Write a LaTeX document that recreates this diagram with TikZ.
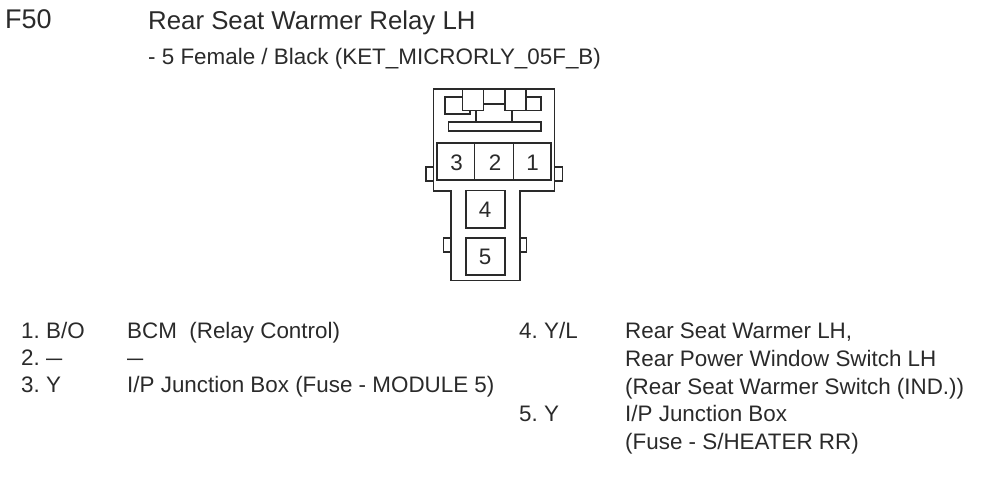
\documentclass[tikz,border=0pt]{standalone}
\usepackage{fontspec}
\setmainfont{Liberation Sans}
\frenchspacing
\definecolor{ink}{HTML}{2A2A2A}
\newcommand{\longdash}{\scalebox{1.3}[1]{--}}
\tikzset{
  pinbox/.style={draw=ink,line width=1.6pt,fill=none},
  part/.style={draw=ink,line width=1.6pt},
  txt/.style={anchor=base west,inner sep=0pt,text=ink,font=\fontsize{22.4}{26}\selectfont},
  head/.style={anchor=base west,inner sep=0pt,text=ink,font=\fontsize{25.8}{30}\selectfont},
  num/.style={anchor=center,inner sep=0pt,text=ink,text depth=0pt,text height=16pt,font=\fontsize{22.4}{27}\selectfont}
}
\begin{document}
\begin{tikzpicture}[x=1pt,y=-1pt]
\useasboundingbox (0,0) rectangle (983,487);
% headings
\node[head,font=\fontsize{27}{30}\selectfont] (f) at (5,29) {F50};
\node[head] (t) at (148,30) {Rear Seat Warmer Relay LH};
\node[txt] (s) at (148,65) {- 5 Female / Black (KET\_MICRORLY\_05F\_B)};
% housing
\draw[part] (433.3,89.3) -- (554.3,89.3) -- (554.3,191) -- (520,191) -- (520,280.3) -- (450.7,280.3) -- (450.7,191) -- (433.3,191) -- cycle;
% tabs
\draw[part] (433.3,166.7) -- (425.7,166.7) -- (425.7,180.7) -- (433.3,180.7);
\draw[part] (554.3,166.7) -- (562.3,166.7) -- (562.3,180.7) -- (554.3,180.7);
\draw[part] (450.7,237.7) -- (443.3,237.7) -- (443.3,251.7) -- (450.7,251.7);
\draw[part] (520,237.7) -- (526.3,237.7) -- (526.3,251.7) -- (520,251.7);
% latch detail
\draw[part] (462.3,96.7) -- (444.7,96.7) -- (444.7,114) -- (470,114) -- (470,110.3);
\draw[part] (462.3,89.3) rectangle (483.3,110.3);
\draw[part] (504.7,89.3) rectangle (525.7,110.3);
\draw[part] (525.7,96.7) -- (541,96.7) -- (541,110.3) -- (525.7,110.3);
\draw[part] (483.3,104) -- (504.7,104);
\draw[part] (476,110.3) -- (476,121.7);
\draw[part] (512,110.3) -- (512,121.7);
\draw[part] (448.3,121.7) rectangle (540.7,130.7);
% terminals
\draw[part] (437,142.7) rectangle (551,180);
\draw[part] (474.3,142.7) -- (474.3,180);
\draw[part] (513.3,142.7) -- (513.3,180);
\node[num] (p3) at (456.7,162) {3};
\node[num] (p2) at (495,162) {2};
\node[num] (p1) at (532.7,162) {1};
\node[pinbox,num,text height=17pt,minimum width=39pt,minimum height=37.4pt] (p4) at (485.2,209) {4};
\node[pinbox,num,text height=17pt,minimum width=39pt,minimum height=37.4pt] (p5) at (485.2,256.4) {5};
% legend
\node[txt] (a1) at (21,338) {1. B/O};
\node[txt] (a2) at (21,365) {2. \longdash};
\node[txt] (a3) at (21,392) {3. Y};
\node[txt] (b1) at (127,338) {BCM\ \ (Relay Control)};
\node[txt] (b2) at (127,365) {\longdash};
\node[txt] (b3) at (127,392) {I/P Junction Box (Fuse - MODULE 5)};
\node[txt] (c4) at (519,338) {4. Y/L};
\node[txt] (c5) at (519,421) {5. Y};
\node[txt] (d1) at (625,338) {Rear Seat Warmer LH,};
\node[txt] (d2) at (625,366) {Rear Power Window Switch LH};
\node[txt] (d3) at (625,394) {(Rear Seat Warmer Switch (IND.))};
\node[txt] (d4) at (625,421) {I/P Junction Box};
\node[txt] (d5) at (625,449) {(Fuse - S/HEATER RR)};
\end{tikzpicture}
\end{document}
